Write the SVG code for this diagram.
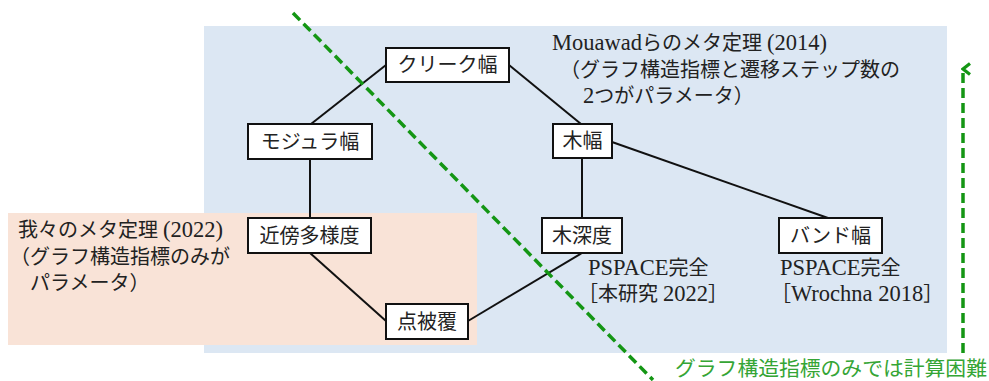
<svg xmlns="http://www.w3.org/2000/svg" width="989" height="381" viewBox="0 0 989 381">
<style>
  .t { font-family: "Liberation Serif", "Noto Sans CJK JP", serif; font-size: 20px; fill: #222; }
  .l { font-size: 22.5px; }
  .box { fill: #fff; stroke: #111; stroke-width: 2; }
  .lbl { font-family: "Liberation Serif", "Noto Sans CJK JP", serif; font-size: 20px; fill: #222; text-anchor: middle; }
  .edge { stroke: #111; stroke-width: 2; fill: none; }
  .gdash { stroke: #149614; stroke-width: 3.5; stroke-dasharray: 10 5; fill: none; }
  .gt { font-family: "Liberation Serif", "Noto Sans CJK JP", serif; font-size: 20.8px; fill: #35a535; }
</style>
<defs>
  <marker id="ah" viewBox="0 0 14 10" refX="7" refY="2" markerWidth="14" markerHeight="10" markerUnits="userSpaceOnUse" orient="auto-start-reverse">
    <path d="M1.5,9 L7,2 L12.5,9" fill="none" stroke="#149614" stroke-width="3.2"/>
  </marker>
</defs>
<rect width="989" height="381" fill="#fff"/>
<g id="regions">
  <rect x="204" y="26" width="743" height="327" fill="#dce7f3"/>
  <rect x="8" y="213" width="469" height="132" fill="#f9e3d7"/>
</g>
<g id="region-labels">
  <text class="t" x="552" y="50"><tspan class="l">Mouawad</tspan>らのメタ定理 <tspan class="l">(2014)</tspan></text>
  <text class="t" x="560" y="77">（グラフ構造指標と遷移ステップ数の</text>
  <text class="t" x="583" y="103"><tspan class="l">2</tspan>つがパラメータ）</text>
  <text class="t" x="18" y="237">我々のメタ定理 <tspan class="l">(2022)</tspan></text>
  <text class="t" x="10" y="264">（グラフ構造指標のみが</text>
  <text class="t" x="30" y="290">パラメータ）</text>
  <text class="t" x="588" y="275"><tspan class="l">PSPACE</tspan>完全</text>
  <text class="t" x="578" y="301">［本研究 <tspan class="l">2022</tspan>］</text>
  <text class="t" x="780" y="275"><tspan class="l">PSPACE</tspan>完全</text>
  <text class="t" x="771" y="301">［<tspan class="l">Wrochna 2018</tspan>］</text>
</g>
<g id="connectors">
  <line class="edge" x1="386" y1="65" x2="311" y2="124"/>
  <line class="edge" x1="509" y1="65" x2="581" y2="124"/>
  <line class="edge" x1="310" y1="159" x2="310" y2="218"/>
  <line class="edge" x1="582" y1="158" x2="582" y2="218"/>
  <line class="edge" x1="612" y1="142" x2="828" y2="218"/>
  <line class="edge" x1="310" y1="253" x2="386" y2="321"/>
  <line class="edge" x1="468" y1="321" x2="582" y2="253"/>
</g>
<g id="node-clique">
  <rect class="box" x="386" y="48" width="123" height="34"/>
  <text class="lbl" x="447.5" y="72">クリーク幅</text>
</g>
<g id="node-modular">
  <rect class="box" x="248" y="124" width="124" height="35"/>
  <text class="lbl" x="310" y="149">モジュラ幅</text>
</g>
<g id="node-treewidth">
  <rect class="box" x="553" y="124" width="59" height="34"/>
  <text class="lbl" x="582.5" y="148">木幅</text>
</g>
<g id="node-neighborhood">
  <rect class="box" x="248" y="218" width="123" height="35"/>
  <text class="lbl" x="309.5" y="243">近傍多様度</text>
</g>
<g id="node-treedepth">
  <rect class="box" x="542" y="218" width="80" height="35"/>
  <text class="lbl" x="582" y="243">木深度</text>
</g>
<g id="node-bandwidth">
  <rect class="box" x="779" y="218" width="103" height="35"/>
  <text class="lbl" x="830.5" y="243">バンド幅</text>
</g>
<g id="node-vertexcover">
  <rect class="box" x="386" y="304" width="82" height="35"/>
  <text class="lbl" x="427" y="329">点被覆</text>
</g>
<g id="hardness">
  <line class="gdash" x1="293" y1="13" x2="653" y2="380"/>
  <line class="gdash" x1="963" y1="353" x2="963" y2="69" marker-end="url(#ah)"/>
  <text class="gt" x="675" y="376">グラフ構造指標のみでは計算困難</text>
</g>
</svg>
